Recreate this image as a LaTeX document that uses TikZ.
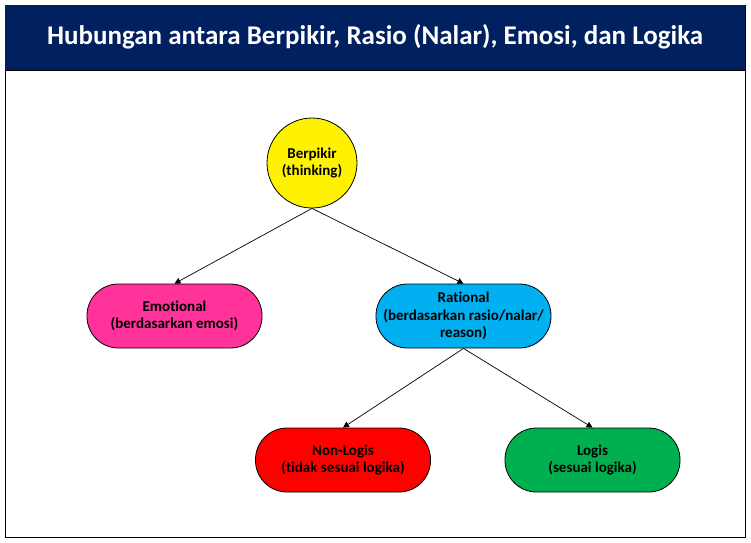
\documentclass[tikz,border=0pt]{standalone}
\usepackage{fontspec}
\setmainfont[Ligatures={NoCommon}]{Carlito}
\usetikzlibrary{arrows.meta}
\definecolor{navy}{HTML}{002060}
\definecolor{hotpink}{HTML}{FF3399}
\definecolor{skyblue}{HTML}{00B0F0}
\definecolor{leafgreen}{HTML}{00B050}
\tikzset{
	pill/.style={draw=black, line width=0.8pt, rounded corners=31.5pt,
		minimum width=175pt, minimum height=64pt, align=center,
		font=\fontsize{15}{17.5}\selectfont\bfseries},
	link/.style={line width=0.7pt, -{Triangle[length=6pt,width=6pt]}}
}
\begin{document}
\begin{tikzpicture}
	[x=1pt, y=-1pt]
	\useasboundingbox (0,0) rectangle (751,542);
	\draw[line width=1pt] (5,5) rectangle (745,537);
	\fill[navy] (5,5) rectangle (745,70);
	\draw[line width=1pt] (5,70) -- (745,70);
	\node (title) at (375,37) [text=white, font=\fontsize{27}{31}\selectfont\bfseries]
		{Hubungan antara Berpikir, Rasio (Nalar), Emosi, dan Logika};
	% root
	\node (think) at (312,163) [circle, draw=black, line width=0.8pt, fill=yellow,
		minimum size=90pt, inner sep=0pt, align=center,
		font=\fontsize{15}{17.5}\selectfont\bfseries] {Berpikir\\(thinking)};
	% second level
	\node (emo) at (174.5,316) [pill, fill=hotpink] {Emotional\\(berdasarkan emosi)};
	\node (rat) at (463.5,316) [pill, fill=skyblue] {Rational\\(berdasarkan rasio/nalar/\\reason)};
	% third level
	\node (nonlog) at (343,460) [pill, fill=red] {Non-Logis\\(tidak sesuai logika)};
	\node (log) at (592.5,460) [pill, fill=leafgreen] {Logis\\(sesuai logika)};
	\draw[link] (think.south) -- (emo.north);
	\draw[link] (think.south) -- (rat.north);
	\draw[link] (rat.south) -- (nonlog.north);
	\draw[link] (rat.south) -- (log.north);
	\end{tikzpicture}
\end{document}
